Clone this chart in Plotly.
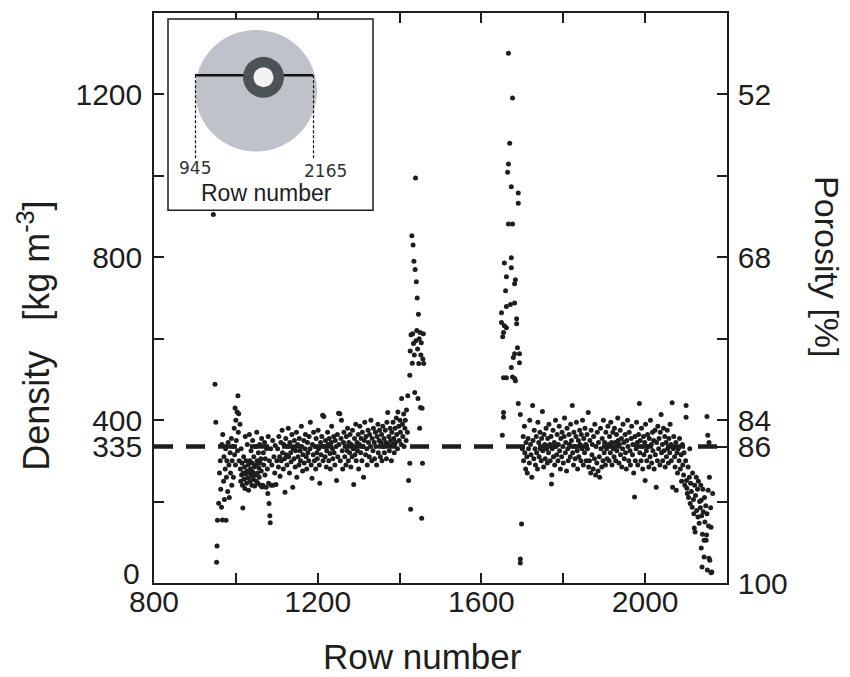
import plotly.graph_objects as go

# ---------------- data ----------------
rows_entry = [945, 949, 951, 953, 954, 955, 958, 960, 962, 963, 965, 966, 967, 968, 970, 971, 972, 974, 975, 976,
              977, 978, 980, 981, 983, 984, 986, 987, 989, 990, 991, 993, 994, 996, 997, 998, 999, 1000, 1001, 1003,
              1004, 1005, 1006, 1007, 1008, 1010]
dens_entry = [905, 488, 395, 51, 91, 154, 196, 270, 300, 230, 186, 340, 155, 365, 250, 310, 205, 280, 330, 154,
              260, 300, 225, 345, 290, 210, 320, 270, 355, 240, 300, 335, 260, 380, 315, 430, 290, 400, 350, 420,
              325, 460, 370, 416, 300, 390]

rows_dip = [1011, 1012, 1013, 1014, 1015, 1016, 1017, 1018, 1019, 1020, 1021, 1022, 1023, 1024, 1025, 1026, 1027, 1028,
            1029, 1030, 1031, 1032, 1033, 1034, 1035, 1036, 1037, 1038, 1039, 1040, 1041, 1042, 1043, 1044, 1045, 1046,
            1047, 1048, 1049, 1050, 1051, 1052, 1053, 1054, 1055, 1056, 1057, 1058, 1059, 1060, 1061, 1062, 1063, 1064,
            1066, 1067, 1068, 1070, 1071, 1072, 1074, 1075, 1077, 1078, 1079, 1080, 1081, 1082, 1083, 1084, 1085, 1086,
            1088, 1090, 1091, 1093, 1095, 1096, 1098, 1100]
dens_dip = [280, 250, 330, 265, 295, 240, 184, 270, 310, 255, 285, 232, 360, 268, 300, 245, 275, 340,
            258, 290, 228, 270, 365, 300, 250, 280, 325, 262, 240, 295, 350, 272, 255, 310, 285, 238,
            265, 335, 290, 250, 370, 300, 270, 245, 320, 283, 260, 340, 295, 240, 305, 275, 355, 236,
            240, 320, 290, 345, 265, 305, 235, 330, 280, 220, 360, 245, 195, 300, 165, 148, 330, 240,
            290, 350, 240, 310, 270, 338, 242, 300]

rows_band1 = [1102, 1104, 1105, 1107, 1108, 1110, 1111, 1113, 1114, 1116, 1117, 1119, 1120, 1122, 1123, 1125, 1126, 1128,
              1129, 1131, 1132, 1134, 1135, 1137, 1139, 1140, 1142, 1143, 1145, 1146, 1148, 1149, 1151, 1152, 1154, 1155,
              1157, 1158, 1160, 1161, 1163, 1164, 1166, 1167, 1169, 1170, 1172, 1173, 1175, 1176, 1178, 1179, 1181, 1182,
              1184, 1186, 1187, 1189, 1190, 1192, 1193, 1195, 1196, 1198, 1199, 1201, 1202, 1204, 1205, 1207, 1208, 1210,
              1212, 1213, 1215, 1216, 1218, 1219, 1221, 1222, 1224, 1225, 1227, 1228, 1230, 1231, 1233, 1234, 1236, 1237,
              1239, 1240, 1242, 1243, 1245, 1246, 1248, 1249, 1251, 1252, 1254, 1255, 1257, 1258, 1260, 1261, 1263, 1264,
              1266, 1267, 1269, 1270, 1272, 1273, 1275, 1276, 1278, 1279, 1281, 1282, 1284, 1285, 1287, 1288, 1290, 1291,
              1293, 1294, 1296, 1297, 1299, 1300, 1302, 1303, 1305, 1306, 1308, 1309, 1311, 1312, 1314, 1315, 1317, 1318,
              1320, 1321, 1323, 1324, 1326, 1327, 1329, 1330, 1332, 1333, 1335, 1336, 1338, 1339, 1341, 1342, 1344, 1345,
              1347, 1348, 1350, 1351, 1353, 1354, 1356, 1357, 1359, 1360, 1362, 1363, 1365, 1366, 1368, 1369, 1371, 1372,
              1374, 1375, 1377, 1378, 1380, 1381, 1383, 1384, 1386, 1387, 1389, 1390, 1392, 1393, 1395, 1396, 1398, 1399,
              1401, 1402, 1404, 1405, 1407, 1408, 1410, 1411, 1413, 1414, 1416, 1417, 1419, 1420]
dens_band1 = [330, 285, 360, 310, 262, 345, 300, 375, 320, 280, 340, 305, 223, 355, 315, 290, 335, 380,
              310, 270, 345, 320, 298, 365, 235, 330, 305, 350, 285, 325, 370, 260, 340, 310, 290, 355,
              325, 300, 385, 335, 275, 315, 350, 295, 330, 365, 310, 280, 345, 320, 300, 360, 330, 395,
              290, 257, 340, 315, 370, 300, 335, 280, 355, 320, 305, 375, 330, 290, 245, 345, 315, 360,
              412, 300, 409, 335, 310, 350, 285, 325, 370, 340, 300, 355, 318, 280, 345, 385, 330, 305,
              360, 320, 290, 350, 335, 252, 365, 310, 417, 340, 416, 300, 355, 400, 325, 280, 345, 370,
              310, 335, 290, 360, 325, 380, 300, 345, 320, 365, 285, 340, 310, 375, 330, 242, 355, 315,
              390, 300, 345, 325, 365, 280, 340, 385, 320, 355, 300, 370, 335, 260, 350, 395, 315, 360,
              330, 290, 375, 345, 310, 365, 335, 400, 300, 355, 325, 380, 345, 305, 370, 335, 290, 360,
              390, 320, 350, 375, 310, 345, 365, 300, 385, 335, 355, 320, 375, 345, 305, 395, 419, 340,
              360, 325, 380, 350, 300, 370, 340, 395, 355, 320, 380, 345, 405, 365, 330, 420, 385, 350,
              400, 370, 340, 453, 390, 360, 415, 335, 380, 400, 350, 425, 370, 460]

rows_spike1 = [1422, 1425, 1425, 1426, 1427, 1428, 1430, 1431, 1432, 1433, 1434, 1435, 1436, 1437, 1438, 1439, 1440,
               1441, 1442, 1443, 1444, 1445, 1446, 1447, 1448, 1449, 1450, 1451, 1452, 1453, 1454, 1455, 1456, 1457,
               1458, 1459]
dens_spike1 = [252, 294, 510, 570, 181, 610, 853, 540, 612, 830, 588, 790, 560, 468, 770, 995, 595,
               740, 620, 700, 575, 453, 660, 539, 600, 380, 615, 431, 560, 590, 159, 429, 294, 550,
               612, 539]

rows_spike2 = [1666, 1676, 1669, 1666, 1664, 1673, 1690, 1690, 1666, 1676, 1673, 1656, 1673, 1661, 1683, 1681, 1659,
               1661, 1671, 1681, 1649, 1649, 1656, 1661, 1686, 1686, 1654, 1652, 1688, 1681, 1693, 1678, 1693, 1673,
               1654, 1661, 1676, 1681, 1683, 1654, 1654, 1651, 1690, 1695, 1698, 1695, 1695]
dens_spike2 = [1301, 1191, 1080, 1029, 1009, 973, 958, 933, 882, 882, 799, 786, 774, 752, 745, 735, 718,
               679, 684, 688, 664, 640, 632, 627, 649, 637, 615, 605, 578, 563, 563, 554, 541, 529,
               504, 504, 506, 502, 497, 419, 407, 363, 441, 414, 145, 59, 49]

rows_band2 = [1700, 1702, 1703, 1705, 1706, 1708, 1709, 1711, 1712, 1714, 1715, 1717, 1718, 1720, 1721, 1723, 1725, 1726,
              1728, 1729, 1731, 1732, 1734, 1735, 1737, 1738, 1740, 1741, 1743, 1744, 1746, 1747, 1749, 1750, 1752, 1753,
              1755, 1756, 1758, 1759, 1761, 1762, 1764, 1765, 1767, 1768, 1770, 1771, 1772, 1773, 1775, 1776, 1778, 1779,
              1781, 1782, 1784, 1785, 1787, 1788, 1790, 1791, 1793, 1794, 1796, 1797, 1799, 1800, 1802, 1803, 1805, 1806,
              1808, 1809, 1811, 1812, 1814, 1815, 1817, 1818, 1820, 1822, 1823, 1825, 1826, 1828, 1829, 1831, 1832, 1834,
              1835, 1837, 1838, 1840, 1841, 1843, 1844, 1846, 1847, 1849, 1850, 1852, 1853, 1855, 1856, 1858, 1859, 1861,
              1862, 1864, 1865, 1867, 1868, 1870, 1871, 1873, 1874, 1876, 1877, 1879, 1880, 1882, 1883, 1885, 1886, 1888,
              1889, 1891, 1892, 1894, 1895, 1897, 1898, 1900, 1901, 1903, 1904, 1906, 1907, 1909, 1910, 1912, 1913, 1915,
              1916, 1918, 1919, 1921, 1922, 1924, 1925, 1927, 1928, 1930, 1931, 1933, 1934, 1936, 1937, 1939, 1940, 1942,
              1943, 1945, 1946, 1948, 1949, 1951, 1952, 1954, 1955, 1957, 1958, 1960, 1961, 1963, 1964, 1966, 1967, 1969,
              1970, 1972, 1974, 1975, 1976, 1978, 1979, 1981, 1982, 1984, 1986, 1987, 1988, 1990, 1991, 1993, 1994, 1996,
              1997, 1999, 2000, 2001, 2003, 2004, 2006, 2007, 2009, 2010, 2012, 2013, 2015, 2016, 2018, 2019, 2021, 2022,
              2024, 2025, 2027, 2028, 2030, 2031, 2033, 2034, 2036, 2037, 2039, 2040, 2042, 2043, 2045, 2046, 2048, 2049,
              2051, 2052, 2054, 2055, 2057, 2058, 2060, 2061, 2063, 2064, 2066, 2067, 2069, 2070, 2072, 2073, 2075, 2076,
              2078, 2079]
dens_band2 = [330, 360, 300, 385, 320, 280, 345, 310, 270, 355, 330, 295, 400, 340, 315, 260, 436, 350,
              305, 375, 330, 290, 360, 320, 280, 395, 345, 310, 370, 330, 300, 355, 421, 325, 285, 365,
              340, 305, 380, 330, 295, 355, 320, 390, 340, 300, 360, 243, 265, 330, 375, 310, 345, 290,
              400, 335, 315, 365, 300, 340, 385, 325, 280, 355, 310, 370, 335, 295, 360, 405, 320, 345,
              275, 380, 330, 300, 365, 340, 310, 390, 350, 436, 320, 290, 370, 335, 305, 360, 395, 325,
              280, 350, 310, 375, 340, 300, 365, 330, 400, 290, 355, 320, 380, 340, 300, 365, 330, 419,
              285, 300, 350, 270, 375, 315, 340, 280, 360, 305, 390, 265, 335, 295, 370, 275, 345, 310,
              260, 380, 330, 285, 355, 300, 400, 320, 345, 290, 370, 330, 305, 385, 340, 300, 360, 320,
              395, 345, 290, 370, 330, 310, 380, 345, 300, 365, 325, 405, 350, 295, 340, 375, 315, 355,
              285, 330, 390, 345, 305, 365, 320, 280, 350, 400, 335, 300, 370, 325, 290, 355, 385, 315,
              340, 270, 211, 360, 300, 330, 395, 345, 290, 365, 441, 320, 350, 300, 380, 335, 280, 360,
              315, 345, 252, 390, 325, 300, 365, 335, 285, 355, 310, 400, 340, 295, 370, 325, 350, 280,
              375, 315, 235, 345, 300, 385, 330, 355, 290, 370, 414, 320, 340, 300, 380, 325, 360, 285,
              345, 310, 375, 330, 295, 355, 320, 390, 340, 300, 443, 235, 330, 360, 310, 285, 345, 228,
              320, 270]

rows_tail = [2081, 2083, 2084, 2086, 2088, 2089, 2091, 2092, 2094, 2095, 2097, 2099, 2100, 2100, 2101, 2102, 2103, 2105,
             2106, 2108, 2109, 2110, 2111, 2113, 2115, 2116, 2118, 2119, 2120, 2121, 2122, 2123, 2125, 2126, 2128, 2129,
             2130, 2132, 2133, 2135, 2136, 2137, 2137, 2138, 2139, 2140, 2141, 2142, 2144, 2144, 2145, 2146, 2148, 2149,
             2150, 2151, 2151, 2152, 2153, 2154, 2155, 2156, 2156, 2157, 2158, 2160, 2161, 2161, 2163, 2165]
dens_tail = [330, 300, 355, 280, 315, 250, 340, 290, 265, 320, 240, 300, 436, 407, 252, 233, 220, 285,
             210, 260, 330, 195, 245, 225, 186, 270, 205, 170, 135, 240, 125, 215, 260, 178, 230, 162,
             250, 147, 200, 185, 240, 86, 203, 165, 39, 120, 230, 175, 64, 105, 210, 150, 190, 105,
             118, 409, 170, 32, 363, 228, 140, 61, 345, 260, 56, 185, 137, 25, 27, 220]

mean_density = 335           # dashed reference line
x_ticks = [800, 1000, 1200, 1400, 1600, 1800, 2000, 2200]
x_tick_text = ["800", "", "1200", "", "1600", "", "2000", ""]
y_ticks = [0, 200, 400, 600, 800, 1000, 1200, 335]
y_tick_text = ["", "", "400", "", "800", "", "1200", "335"]
por_tick_text = ["100", "", "84", "", "68", "", "52", "86"]
zero_label = "0"
inset_rows = ["945", "2165"]

rows = rows_entry + rows_dip + rows_band1 + rows_spike1 + rows_spike2 + rows_band2 + rows_tail
dens = dens_entry + dens_dip + dens_band1 + dens_spike1 + dens_spike2 + dens_band2 + dens_tail

# ---------------- layout geometry ----------------
W, H = 850, 677
L, R, T, B = 154, 727, 11, 583
FONT = "Liberation Sans, Arial, sans-serif"
INK = "#1e1e1e"


def px(x):
    return (x - L) / (R - L)


def py(y):
    return (B - y) / (B - T)


fig = go.Figure()
fig.add_trace(go.Scatter(x=rows, y=dens, mode="markers",
                         marker=dict(size=5, color=INK, line=dict(width=0)),
                         showlegend=False, hoverinfo="x+y"))
fig.add_trace(go.Scatter(x=[x_ticks[0], x_ticks[-1]], y=[mean_density, mean_density], mode="lines",
                         line=dict(color=INK, width=4.5, dash="19px,13px"),
                         yaxis="y2", showlegend=False, hoverinfo="skip"))

axis_common = dict(showline=True, linecolor=INK, linewidth=1.5, ticks="inside", ticklen=10,
                   tickwidth=1.5, tickcolor=INK, showgrid=False, zeroline=False,
                   tickfont=dict(family=FONT, size=30, color=INK))

fig.update_layout(
    width=W, height=H, margin=dict(l=L, r=W - R, t=T, b=H - B),
    paper_bgcolor="white", plot_bgcolor="white",
    xaxis=dict(range=[800, 2200], tickvals=x_ticks, ticktext=x_tick_text, mirror="ticks",
               ticklabelstandoff=-9, **axis_common),
    yaxis=dict(range=[0, 1400], tickvals=y_ticks, ticktext=y_tick_text, ticklabelstandoff=4,
               **axis_common),
    yaxis2=dict(range=[0, 1400], tickvals=y_ticks, ticktext=por_tick_text, overlaying="y", side="right",
                ticklabelstandoff=3, **axis_common),
)


def label(text, x, y, size, family=FONT, color=INK, angle=0, xanchor="center"):
    fig.add_annotation(text=text, xref="paper", yref="paper", x=px(x), y=py(y), showarrow=False,
                       xanchor=xanchor, yanchor="middle", textangle=angle,
                       font=dict(family=family, size=size, color=color))


# lowest left tick label sits a little above the axis line
label(zero_label, 142, 573, 30, xanchor="right")

# axis titles
label("Row number", 422, 657, 35)
label("Density\u00a0\u00a0\u00a0[kg m<sup>-3</sup>]", 34, 335, 36, angle=-90)
label("Porosity [%]", 827, 265, 34, angle=90)

# ---------------- inset ----------------
def rect(x0, y0, x1, y1, **kw):
    return dict(xref="paper", yref="paper", x0=px(x0), x1=px(x1), y0=py(y1), y1=py(y0), **kw)


shapes = [
    rect(168, 17, 373, 209, type="rect", fillcolor="white", line=dict(color=INK, width=1.5)),
    rect(195, 28, 317, 150, type="circle", fillcolor="#bfc3c9", line=dict(width=0)),
    dict(type="line", xref="paper", yref="paper", x0=px(195), x1=px(313), y0=py(73.5), y1=py(73.5),
         line=dict(color="#111", width=2.5)),
    rect(243, 55, 284, 96, type="circle", fillcolor="#4c5355", line=dict(width=0)),
    rect(253.5, 65.5, 273.5, 85.5, type="circle", fillcolor="#f2f2f2", line=dict(width=0)),
    dict(type="line", xref="paper", yref="paper", x0=px(195.5), x1=px(195.5), y0=py(73.5), y1=py(158),
         line=dict(color="#111", width=1.2, dash="3px,2px")),
    dict(type="line", xref="paper", yref="paper", x0=px(313.5), x1=px(313.5), y0=py(73.5), y1=py(158),
         line=dict(color="#111", width=1.2, dash="3px,2px")),
]
fig.update_layout(shapes=shapes)
label(inset_rows[0], 195, 167, 17, family="DejaVu Sans", color="#333")
label(inset_rows[1], 325, 170, 17, family="DejaVu Sans", color="#333")
label("Row number", 266, 192, 23)

fig.write_html("out.html")
